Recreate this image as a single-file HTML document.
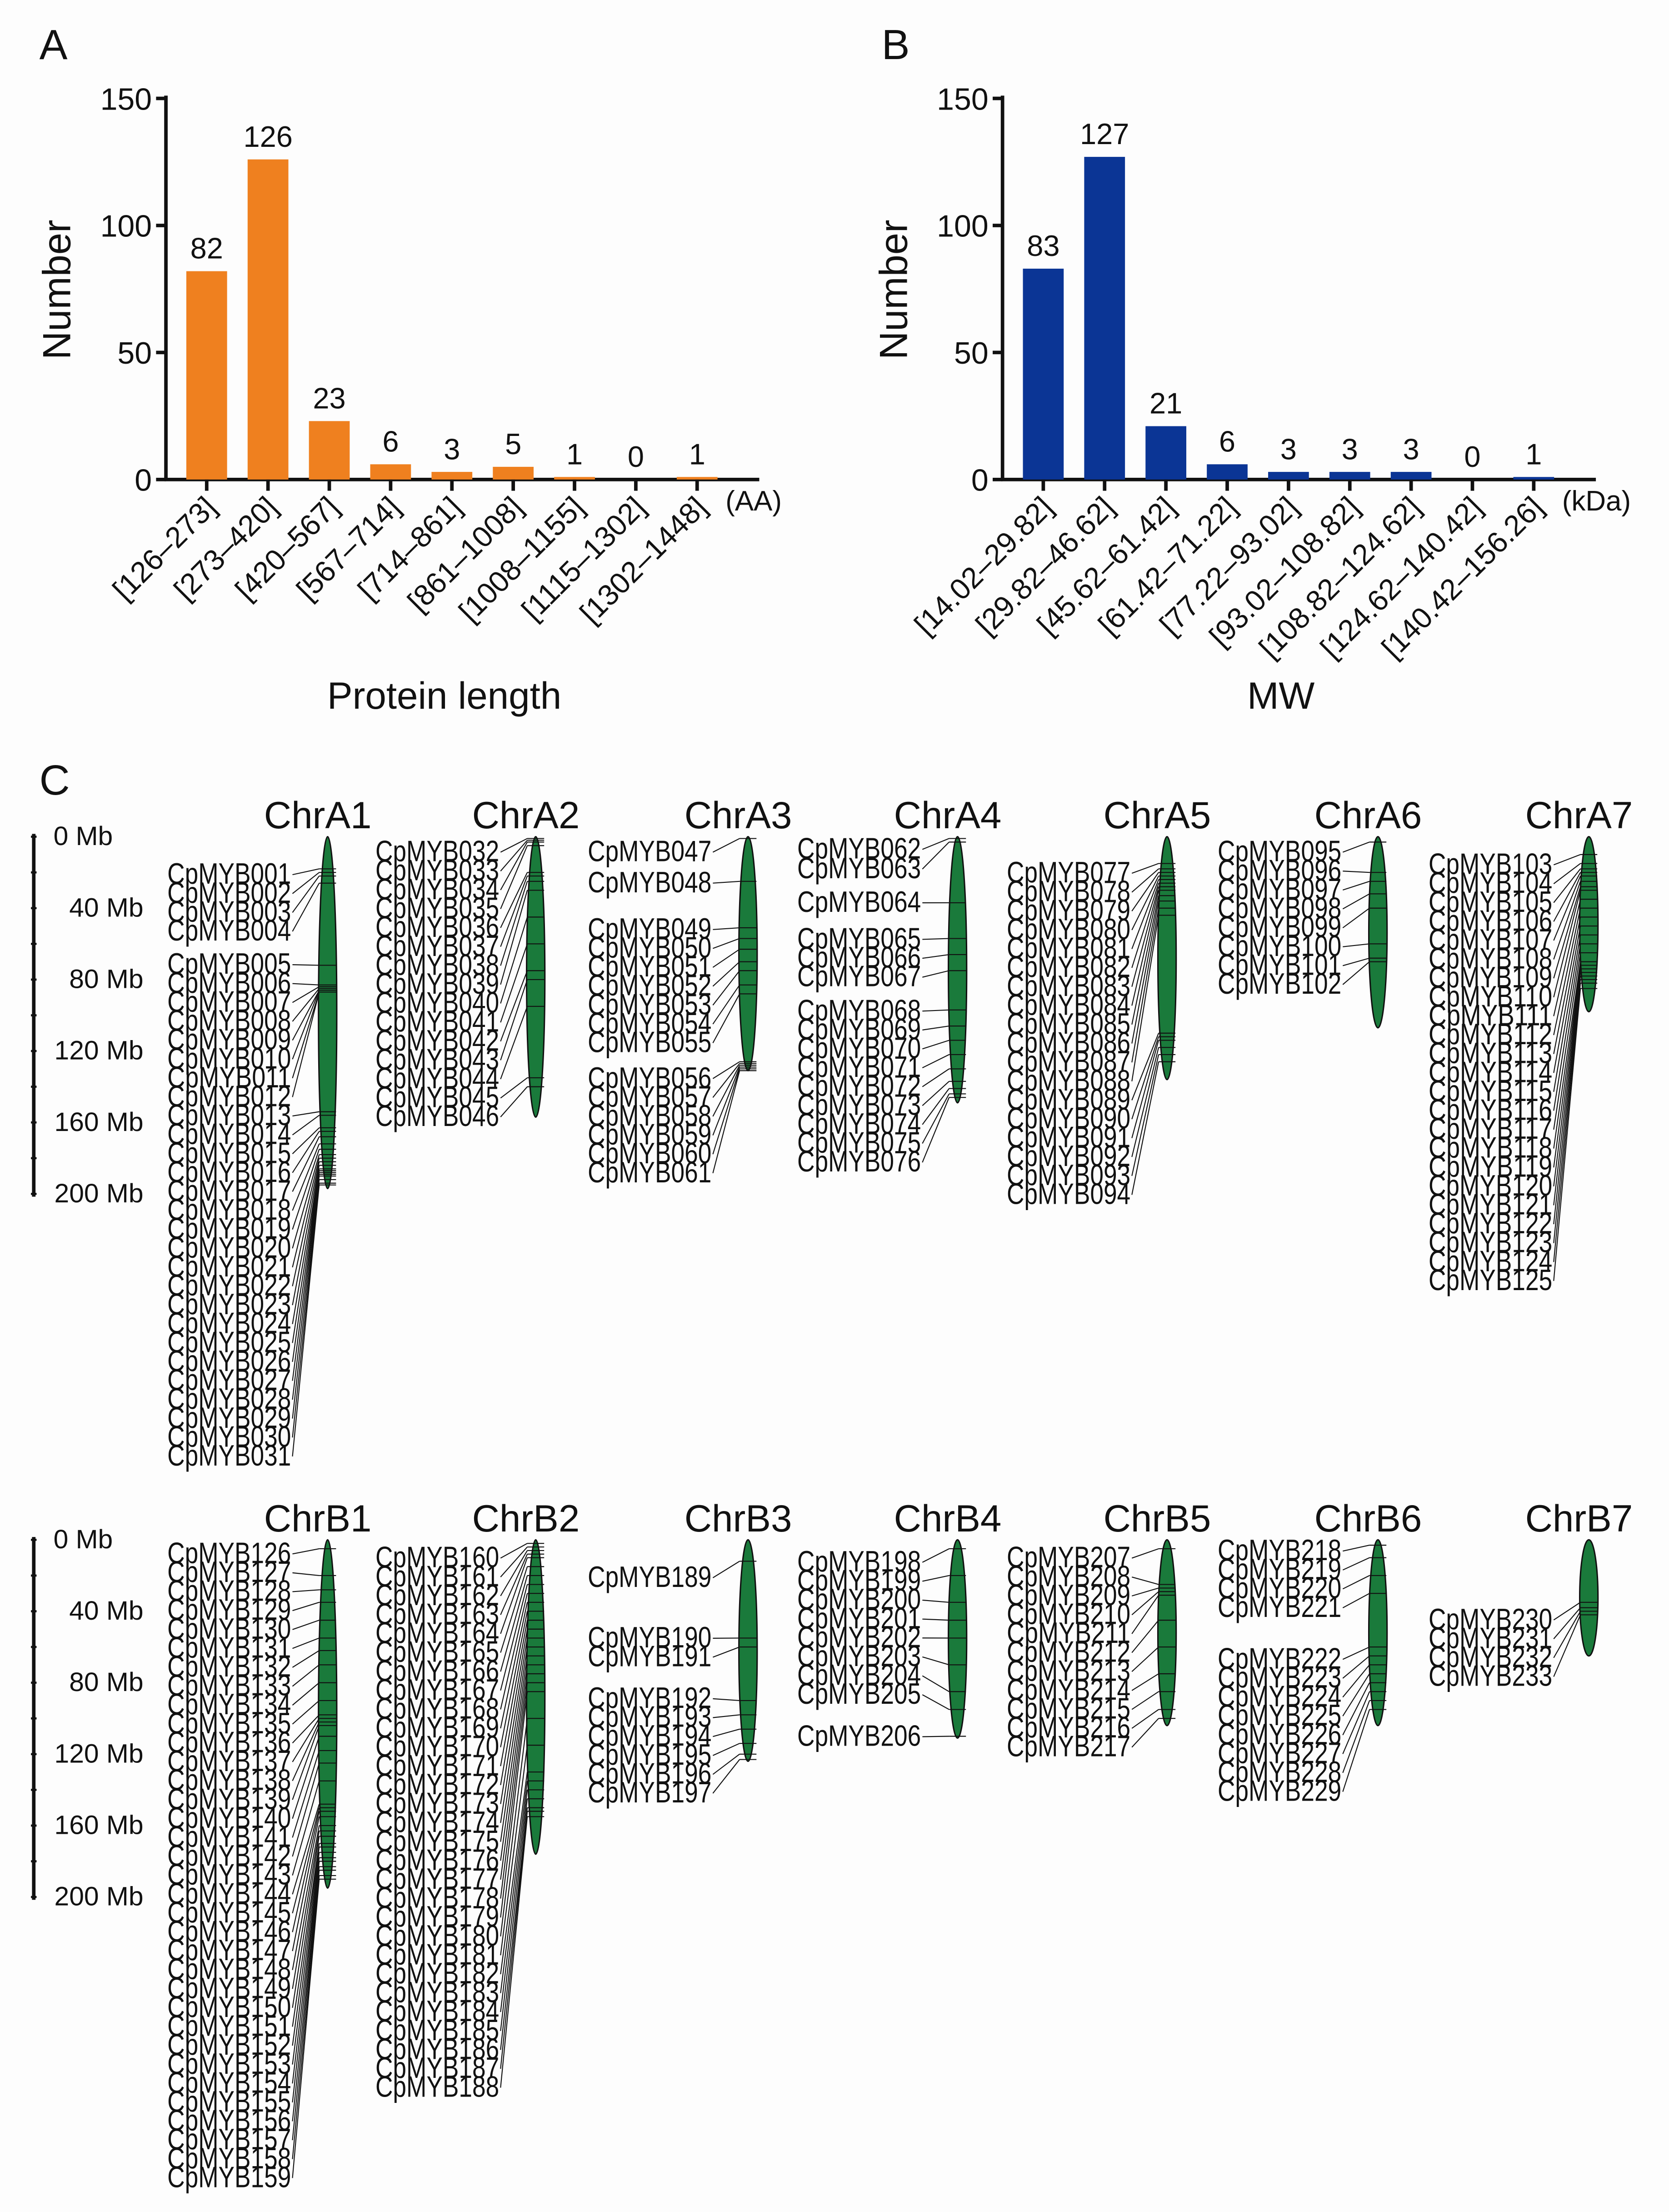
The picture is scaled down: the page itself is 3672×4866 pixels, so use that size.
<!DOCTYPE html>
<html><head><meta charset="utf-8"><style>
html,body{margin:0;padding:0;background:#fdfdfd;}
svg{display:block;}
text{font-family:"Liberation Sans",Arial,sans-serif;fill:#111;}
</style></head><body>
<svg id="fig" width="3672" height="4866" viewBox="0 0 1187 1573" xmlns="http://www.w3.org/2000/svg">
<rect x="0" y="0" width="1187" height="1573" fill="#fdfdfd"/>
<text x="28" y="42" font-size="30">A</text>
<text x="627" y="42" font-size="30">B</text>
<text x="28" y="565" font-size="30">C</text>
<g id="chartA"></g>
<g id="chartB"></g>
<g id="chrom"></g>
</svg>
<script>
const NS="http://www.w3.org/2000/svg";
const catsA=["[126–273]","[273–420]","[420–567]","[567–714]","[714–861]","[861–1008]","[1008–1155]","[1115–1302]","[1302–1448]"];
const valsA=[82,126,23,6,3,5,1,0,1];
const catsB=["[14.02–29.82]","[29.82–46.62]","[45.62–61.42]","[61.42–71.22]","[77.22–93.02]","[93.02–108.82]","[108.82–124.62]","[124.62–140.42]","[140.42–156.26]"];
const valsB=[83,127,21,6,3,3,3,0,1];
const yTicks=[0,50,100,150];

function mk(tag,attrs,parent,txt){const e=document.createElementNS(NS,tag);for(const k in attrs)e.setAttribute(k,attrs[k]);if(txt!==undefined)e.textContent=txt;parent.appendChild(e);return e;}

function bar(gid,x0,cats,vals,color,unit,title){
  const g=document.getElementById(gid);
  const y=v=>341-v*(271/150);
  const x=i=>x0+29+i*43.6;
  let e=mk('line',{x1:x0,y1:68,x2:x0,y2:342,stroke:'#111','stroke-width':2.5},g);
  
  
  e=mk('line',{x1:x0-1,y1:341,x2:x0+422,y2:341,stroke:'#111','stroke-width':2.5},g);
  
  
  yTicks.forEach(t=>{
    mk('line',{x1:x0-7,y1:y(t),x2:x0,y2:y(t),stroke:'#111','stroke-width':2.5},g);
    const tt=mk('text',{x:x0-10,y:y(t)+8,'font-size':22,'text-anchor':'end'},g,String(t));
    
    
  });
  cats.forEach((c,i)=>{
    const r=mk('rect',{x:x(i)-14.5,y:y(vals[i]),width:29,height:341-y(vals[i]),fill:color},g);
    
    
    const v=mk('text',{x:x(i),y:y(vals[i])-9,'font-size':21,'text-anchor':'middle'},g,String(vals[i]));
    
    
    mk('line',{x1:x(i),y1:341,x2:x(i),y2:349,stroke:'#111','stroke-width':2.5},g);
    const t=mk('text',{x:x(i)+8,y:362,'font-size':21,'text-anchor':'end',transform:`rotate(-45 ${x(i)+8} 362)`},g,c);
    
    
  });
  e=mk('text',{x:x0+398,y:363,'font-size':20},g,unit);
  
  
  e=mk('text',{x:x0+198,y:504,'font-size':27,'text-anchor':'middle'},g,title);
  
  
  e=mk('text',{x:x0-78,y:206,'font-size':28,'text-anchor':'middle',transform:`rotate(-90 ${x0-78} 206)`,dy:10},g,'Number');
  
  
}
bar('chartA',118,catsA,valsA,'#ef801f','(AA)','Protein length');
bar('chartB',713,catsB,valsB,'#0b3595','(kDa)','MW');

const chrNames=["ChrA1","ChrA2","ChrA3","ChrA4","ChrA5","ChrA6","ChrA7","ChrB1","ChrB2","ChrB3","ChrB4","ChrB5","ChrB6","ChrB7"];
const chrLen=[197,157,131,149,136,107,98,195,176,124,111,104,104,65];
const geneMb=[
[18,20,22,26,72,83,84,85,86,86,87,87,154,156,163,165,168,172,175,178,180,182,184,186,187,188,189,190,192,194,195],
[1,2,3,5,20,22,25,30,45,60,75,80,95,135,140],
[1,25,51,57,63,70,75,83,88,126,127,128,129,130,131],
[1,3,37,57,66,75,97,106,114,122,130,137,141,144,146],
[15,18,20,22,24,26,28,30,33,36,40,44,110,112,114,118,122,126],
[3,20,25,32,40,60,68,70],
[10,15,18,20,22,25,28,30,35,40,45,50,55,60,65,70,72,74,76,78,80,82,85],
[5,20,28,35,45,55,62,70,80,90,98,100,102,104,110,118,125,135,148,150,152,155,160,163,166,170,172,175,178,180,183,185,188,190],
[2,4,6,8,10,15,20,25,30,35,40,45,50,55,60,65,70,75,80,85,100,115,130,135,140,145,150,152,155],
[12,55,60,90,98,106,114,120,123],
[5,20,35,45,55,70,85,95,110],
[5,25,27,29,31,45,60,75,85,95,100],
[3,10,20,30,60,65,70,75,80,85,90,95],
[35,38,40,42]
];
const labelGroups=[
[[4,27],[27,91]],[[15,11]],[[1,11],[1,33],[7,66],[6,172]],[[1,9],[1,23],[1,47],[3,73],[9,124]],
[[18,26]],[[8,11]],[[23,20]],[[34,10]],[[29,13]],[[1,27],[2,70],[6,113]],[[8,16],[1,140]],
[[11,13]],[[4,8],[8,85]],[[4,57]]
];
const scaleTicks=[0,40,80,120,160,200];

const cg=document.getElementById('chrom');
const centers=[233,381,532,681,830,980,1130];
const pxPerMb=1.27;
let geneNo=1;
[595,1095].forEach((top,row)=>{
  let e=mk('line',{x1:24,y1:top-2,x2:24,y2:top+200*pxPerMb+2,stroke:'#111','stroke-width':2.5},cg);
  
  
  for(let m=0;m<=200;m+=20) mk('line',{x1:22,y1:top+m*pxPerMb,x2:26,y2:top+m*pxPerMb,stroke:'#111','stroke-width':1.5},cg);
  scaleTicks.forEach(m=>{
    const t=mk('text',{x:m===0?38:102,y:top+m*pxPerMb+6,'font-size':19,'text-anchor':m===0?'start':'end'},cg,m+' Mb');
    
    
  });
});
chrNames.forEach((name,ci)=>{
  const row=ci<7?0:1, top=row?1095:595, cx=centers[ci%7];
  const len=chrLen[ci]*pxPerMb;
  let t=mk('text',{x:cx-7,y:top-6,'font-size':27,'text-anchor':'middle'},cg,name);
  
  
  const el=mk('ellipse',{cx:cx,cy:top+len/2,rx:6.5,ry:len/2,fill:'#1a7a3b',stroke:'#111','stroke-width':1},cg);
  
  
  let gi=0;
  labelGroups[ci].forEach(([n,off])=>{
    for(let k=0;k<n;k++){
      const ly=top+off+k*13.45;
      const gy=top+geneMb[ci][gi]*pxPerMb;
      const id='CpMYB'+String(geneNo).padStart(3,'0');
      const lt=mk('text',{x:cx-26,y:ly+6.5,'font-size':21,'text-anchor':'end',textLength:88,lengthAdjust:'spacingAndGlyphs'},cg,id);
      
      
      mk('line',{x1:cx-25,y1:ly,x2:cx-6,y2:gy,stroke:'#111','stroke-width':0.7},cg);
      mk('line',{x1:cx-6,y1:gy,x2:cx+6,y2:gy,stroke:'#111','stroke-width':0.7},cg);
      gi++;geneNo++;
    }
  });
});
</script>
</body></html>
